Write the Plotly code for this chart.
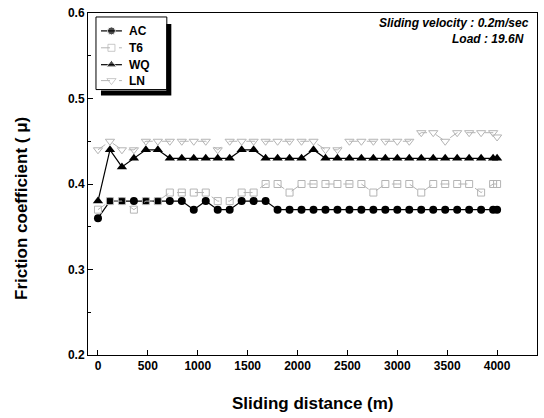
import plotly.graph_objects as go

# Sliding distance (m)
distance = [0, 120, 240, 360, 480, 600, 720, 840, 960, 1080, 1200, 1320, 1440, 1560,
            1680, 1800, 1920, 2040, 2160, 2280, 2400, 2520, 2640, 2760, 2880, 3000,
            3120, 3240, 3360, 3480, 3600, 3720, 3840, 3960, 4000]

ac = [0.36, 0.38, 0.38, 0.38, 0.38, 0.38, 0.38, 0.38, 0.37, 0.38, 0.37, 0.37, 0.38, 0.38,
      0.38, 0.37, 0.37, 0.37, 0.37, 0.37, 0.37, 0.37, 0.37, 0.37, 0.37, 0.37,
      0.37, 0.37, 0.37, 0.37, 0.37, 0.37, 0.37, 0.37, 0.37]

t6 = [0.37, 0.38, 0.38, 0.37, 0.38, 0.38, 0.39, 0.39, 0.39, 0.39, 0.38, 0.38, 0.39, 0.39,
      0.40, 0.40, 0.39, 0.40, 0.40, 0.40, 0.40, 0.40, 0.40, 0.39, 0.40, 0.40,
      0.40, 0.39, 0.40, 0.40, 0.40, 0.40, 0.39, 0.40, 0.40]

wq = [0.38, 0.44, 0.42, 0.43, 0.44, 0.44, 0.43, 0.43, 0.43, 0.43, 0.43, 0.43, 0.44, 0.44,
      0.43, 0.43, 0.43, 0.43, 0.44, 0.43, 0.43, 0.43, 0.43, 0.43, 0.43, 0.43,
      0.43, 0.43, 0.43, 0.43, 0.43, 0.43, 0.43, 0.43, 0.43]

ln = [0.44, 0.45, 0.44, 0.44, 0.45, 0.45, 0.45, 0.45, 0.45, 0.45, 0.44, 0.45, 0.45, 0.45,
      0.45, 0.45, 0.45, 0.45, 0.45, 0.44, 0.44, 0.45, 0.45, 0.45, 0.45, 0.45,
      0.45, 0.46, 0.46, 0.45, 0.46, 0.46, 0.46, 0.46, 0.455]

series_names = ["AC", "T6", "WQ", "LN"]
x_ticks = [0, 500, 1000, 1500, 2000, 2500, 3000, 3500, 4000]
y_ticks = [0.2, 0.3, 0.4, 0.5, 0.6]

FONT = "Arial, Liberation Sans, sans-serif"
GRAY = "#b4b4b4"

styles = [
    dict(line=dict(color="black", width=1.2),
         marker=dict(symbol="circle", size=8, color="black")),
    dict(line=dict(color=GRAY, width=1, dash="dash"),
         marker=dict(symbol="square-open", size=7, color=GRAY)),
    dict(line=dict(color="black", width=1.2),
         marker=dict(symbol="triangle-up", size=9, color="black")),
    dict(line=dict(color=GRAY, width=1, dash="dash"),
         marker=dict(symbol="triangle-down-open", size=8, color=GRAY)),
]

fig = go.Figure()
for name, vals, st in zip(series_names, [ac, t6, wq, ln], styles):
    fig.add_trace(go.Scatter(x=distance, y=vals, name=name, mode="lines+markers",
                             showlegend=False, **st))

L, R, T, B = 88, 6, 11, 63
W, H = 544, 418
pw, ph = W - L - R, H - T - B

def px(x):
    return (x - L) / pw

def py(y):
    return (H - B - y) / ph

# legend frame: drop shadow drawn as thick black strokes, plus box outline
fig.add_trace(go.Scatter(x=[169, 169, 101], y=[22, 91.5, 91.5],
                         mode="lines", line=dict(color="black", width=5),
                         xaxis="x2", yaxis="y2", showlegend=False, hoverinfo="skip"))
fig.add_trace(go.Scatter(x=[96, 167, 167, 96, 96], y=[15, 15, 88, 88, 15],
                         mode="lines", line=dict(color="black", width=1),
                         xaxis="x2", yaxis="y2", showlegend=False, hoverinfo="skip"))

# legend samples
row_y = [29, 46, 63, 79]
for name, st, ry in zip(series_names, styles, row_y):
    fig.add_trace(go.Scatter(x=[101, 111.5, 122], y=[ry, ry, ry], mode="lines+markers",
                             xaxis="x2", yaxis="y2", showlegend=False, hoverinfo="skip",
                             line=st["line"],
                             marker=dict(st["marker"], size=[0, st["marker"]["size"], 0])))
    fig.add_annotation(text="<b>%s</b>" % name, xref="paper", yref="paper",
                       x=px(127), y=py(ry), xanchor="left", yanchor="middle", showarrow=False,
                       font=dict(family=FONT, size=12, color="black"))

fig.add_annotation(text="<b><i>Sliding velocity : 0.2m/sec</i></b>", xref="paper", yref="paper",
                   x=px(532), y=py(21), xanchor="right", yanchor="middle", showarrow=False,
                   font=dict(family=FONT, size=12, color="black"))
fig.add_annotation(text="<b><i>Load : 19.6N</i></b>", xref="paper", yref="paper",
                   x=px(527), y=py(37), xanchor="right", yanchor="middle", showarrow=False,
                   font=dict(family=FONT, size=12, color="black"))

# axis titles
fig.add_annotation(text="<b>Sliding distance (m)</b>", xref="paper", yref="paper",
                   x=px(313), y=py(404), xanchor="center", yanchor="middle", showarrow=False,
                   font=dict(family=FONT, size=17, color="black"))
fig.add_annotation(text="<b>Friction coefficient ( \u03bc)</b>", xref="paper", yref="paper",
                   x=px(22), y=py(208), xanchor="center", yanchor="middle", showarrow=False,
                   textangle=-90, font=dict(family=FONT, size=17, color="black"))

fig.update_layout(
    width=W, height=H,
    margin=dict(l=L, r=R, t=T, b=B),
    paper_bgcolor="white", plot_bgcolor="white",
    font=dict(family=FONT, color="black"),
    showlegend=False,
    xaxis=dict(range=[-100, 4400], tickvals=x_ticks, ticktext=[str(v) for v in x_ticks],
               ticks="inside", ticklen=5, tickwidth=1, tickcolor="black",
               showline=True, linecolor="black", linewidth=1, mirror=True,
               showgrid=False, zeroline=False,
               tickfont=dict(family=FONT, size=12, weight="bold")),
    yaxis=dict(range=[0.2, 0.6], tickvals=y_ticks, ticktext=["0.2", "0.3", "0.4", "0.5", "0.6"],
               ticks="inside", ticklen=5, tickwidth=1, tickcolor="black",
               minor=dict(dtick=0.05, ticks="inside", ticklen=3, tickcolor="black"),
               showline=True, linecolor="black", linewidth=1, mirror=True,
               showgrid=False, zeroline=False,
               tickfont=dict(family=FONT, size=12, weight="bold")),
    xaxis2=dict(overlaying="x", range=[L, W - R], visible=False, fixedrange=True),
    yaxis2=dict(overlaying="y", range=[H - B, T], visible=False, fixedrange=True),
)

fig.write_html("out.html", config={"displayModeBar": False},
               post_script="document.body.style.margin='0';")
